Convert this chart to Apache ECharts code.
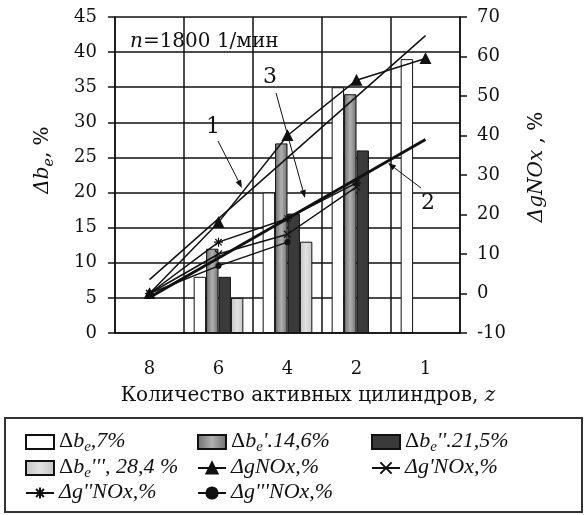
<!DOCTYPE html>
<html>
<head>
<meta charset="utf-8">
<script src="https://cdn.jsdelivr.net/npm/echarts@6/dist/echarts.min.js"></script>
<style>
  html, body { margin: 0; padding: 0; background: #fff; }
  #chart { width: 587px; height: 515px; }
</style>
</head>
<body>
<div id="chart"></div>
<script>
// categories (number of active cylinders)
var categories = ['8', '6', '4', '2', '1'];

// bars, left axis (Δbe, %)
var be0 = [null, 8, 20, 35, 39];
var be1 = [null, 12, 27, 34, null];
var be2 = [null, 8, 17, 26, null];
var be3 = [null, 5, 13, null, null];

// lines, right axis (ΔgNOx, %)
var gNOx0 = [0, 18, 40, 54, 59.5];
var gNOx1 = [0, 10, 15, 27, null];
var gNOx2 = [0, 13, 19, 28, null];
var gNOx3 = [0, 7, 13, null, null];

// trend lines (values read at the first and last category)
var trend1 = [3.5, 65.3];
var trend2 = [-1, 39];

var leftTicks = [0, 45, 5];
var rightTicks = [-10, 70, 10];

var FONT = 'DejaVu Serif';
var LFONT = 'Liberation Serif';
var names = ["Δbe,7%", "Δbe',14,6%", "Δbe'',21,5%", "Δbe''',28,4%",
             "ΔgNOx,%", "Δg'NOx,%", "Δg''NOx,%", "Δg'''NOx,%"];
var legendText = {};
legendText[names[0]] = '{u|Δ}{n|b}{s|e}{n|,7%}';
legendText[names[1]] = "{u|Δ}{n|b}{s|e}{n|'.14,6%}";
legendText[names[2]] = "{u|Δ}{n|b}{s|e}{n|''.21,5%}";
legendText[names[3]] = "{u|Δ}{n|b}{s|e}{n|''', 28,4 %}";
legendText[names[4]] = '{n|ΔgNOx,%}';
legendText[names[5]] = "{n|Δg'NOx,%}";
legendText[names[6]] = "{n|Δg''NOx,%}";
legendText[names[7]] = "{n|Δg'''NOx,%}";

var rich = {
  n: { fontFamily: LFONT, fontSize: 22, fontStyle: 'italic', color: '#111', verticalAlign: 'top', lineHeight: 24 },
  u: { fontFamily: LFONT, fontSize: 22, color: '#111', verticalAlign: 'top', lineHeight: 24 },
  s: { fontFamily: LFONT, fontSize: 15, fontStyle: 'italic', color: '#111', verticalAlign: 'top', lineHeight: 16, padding: [10, 0, 0, 0] }
};

// legend grid: 3 columns x 3 rows
var legendCols = [20, 192, 366];
var legendRows = [425, 451, 476];
var legends = names.map(function (nm, i) {
  return {
    data: [nm],
    left: legendCols[i % 3],
    top: legendRows[Math.floor(i / 3)],
    itemWidth: 28,
    itemHeight: 14,
    icon: i < 4 ? 'rect' : undefined,
    selectedMode: false,
    formatter: function (name) { return legendText[name]; },
    textStyle: { rich: rich }
  };
});

var crossSym = 'path://M0,0L10,10M10,0L0,10';
var starSym = 'path://M5,0L5,10M0,5L10,5M1.5,1.5L8.5,8.5M8.5,1.5L1.5,8.5';

function barSeries(name, data, color) {
  return {
    name: name, type: 'bar', data: data, yAxisIndex: 0,
    barGap: '0%', barCategoryGap: '28%',
    itemStyle: { color: color, borderColor: '#111', borderWidth: 1 }
  };
}
function lineSeries(name, data, symbol, size) {
  return {
    name: name, type: 'line', data: data, yAxisIndex: 1, z: 5,
    symbol: symbol, symbolSize: size,
    lineStyle: { color: '#111', width: 1.5 },
    itemStyle: { color: '#111', borderColor: '#111', borderWidth: 1.2 }
  };
}
function trendSeries(t, w) {
  return {
    type: 'line', yAxisIndex: 1, z: 4, symbol: 'none', silent: true,
    connectNulls: true,
    data: [t[0], null, null, null, t[1]],
    lineStyle: { color: '#111', width: w }
  };
}

// pointer lines with arrow heads (annotations)
function pointer(x1, y1, x2, y2) {
  var a = Math.atan2(y2 - y1, x2 - x1), L = 8, W = 3;
  var bx = x2 - L * Math.cos(a), by = y2 - L * Math.sin(a);
  return [
    { type: 'line', shape: { x1: x1, y1: y1, x2: bx, y2: by }, style: { stroke: '#111', lineWidth: 1 }, z: 10 },
    { type: 'polygon', shape: { points: [[x2, y2],
        [bx + W * Math.sin(a), by - W * Math.cos(a)],
        [bx - W * Math.sin(a), by + W * Math.cos(a)]] }, style: { fill: '#111' }, z: 10 }
  ];
}

var axisLineStyle = { color: '#111', width: 1.5 };
var labelStyle = { fontFamily: FONT, fontSize: 18, color: '#111' };

var graphics = [
  { type: 'rect', shape: { x: 5, y: 418, width: 577, height: 94 }, style: { fill: 'none', stroke: '#333', lineWidth: 2 } },
  { type: 'text', x: 130, y: 42, z: 10, style: {
      text: '{i|n}{r|=1800 1/мин}', verticalAlign: 'middle',
      rich: { i: { fontFamily: FONT, fontSize: 20, fontStyle: 'italic', fill: '#111' }, r: { fontFamily: FONT, fontSize: 20, fill: '#111' } } } },
  { type: 'text', x: 45, y: 160, rotation: Math.PI / 2, style: {
      text: '{i|Δb}{s|e}{r|, %}', align: 'center', verticalAlign: 'middle',
      rich: { i: { fontFamily: FONT, fontSize: 20, fontStyle: 'italic', fill: '#111', verticalAlign: 'top', lineHeight: 24 },
              s: { fontFamily: FONT, fontSize: 14, fontStyle: 'italic', fill: '#111', verticalAlign: 'top', lineHeight: 16, padding: [9, 0, 0, 0] },
              r: { fontFamily: FONT, fontSize: 20, fill: '#111', verticalAlign: 'top', lineHeight: 24 } } } },
  { type: 'text', x: 537, y: 167, rotation: Math.PI / 2, style: {
      text: '{i|ΔgNOx}{r| , %}', align: 'center', verticalAlign: 'middle',
      rich: { i: { fontFamily: FONT, fontSize: 20, fontStyle: 'italic', fill: '#111' }, r: { fontFamily: FONT, fontSize: 20, fill: '#111' } } } },
  { type: 'text', x: 308, y: 396, style: {
      text: '{r|Количество активных цилиндров, }{i|z}', align: 'center', verticalAlign: 'middle',
      rich: { i: { fontFamily: FONT, fontSize: 20, fontStyle: 'italic', fill: '#111' }, r: { fontFamily: FONT, fontSize: 20, fill: '#111' } } } },
  { type: 'text', x: 213, y: 127, z: 10, style: { text: '1', font: '22px "DejaVu Serif"', fill: '#111', align: 'center', verticalAlign: 'middle' } },
  { type: 'text', x: 270, y: 77, z: 10, style: { text: '3', font: '22px "DejaVu Serif"', fill: '#111', align: 'center', verticalAlign: 'middle' } },
  { type: 'text', x: 428, y: 203, z: 10, style: { text: '2', font: '22px "DejaVu Serif"', fill: '#111', align: 'center', verticalAlign: 'middle' } }
].concat(pointer(218, 141, 242, 188), pointer(276, 93, 305, 198), pointer(421, 188, 388, 163));

var chart = echarts.init(document.getElementById('chart'), null, { renderer: 'canvas' });
chart.setOption({
  animation: false,
  backgroundColor: '#fff',
  grid: { left: 115, right: 127, top: 17, bottom: 182 },
  legend: legends,
  xAxis: {
    type: 'category', data: categories, boundaryGap: true,
    axisLine: { lineStyle: axisLineStyle },
    axisTick: { length: 6, lineStyle: axisLineStyle },
    axisLabel: Object.assign({ margin: 27 }, labelStyle),
    splitLine: { show: true, lineStyle: { color: '#111', width: 1.5 } }
  },
  yAxis: [
    {
      type: 'value', min: leftTicks[0], max: leftTicks[1], interval: leftTicks[2],
      axisLine: { show: true, lineStyle: axisLineStyle },
      axisTick: { show: true, length: 7, lineStyle: axisLineStyle },
      axisLabel: Object.assign({ margin: 18 }, labelStyle),
      splitLine: { show: true, lineStyle: { color: '#111', width: 1.5 } }
    },
    {
      type: 'value', position: 'right', min: rightTicks[0], max: rightTicks[1], interval: rightTicks[2],
      axisLine: { show: true, lineStyle: axisLineStyle },
      axisTick: { show: true, length: 7, lineStyle: axisLineStyle },
      axisLabel: Object.assign({ margin: 17 }, labelStyle),
      splitLine: { show: false }
    }
  ],
  series: [
    barSeries(names[0], be0, '#ffffff'),
    barSeries(names[1], be1, new echarts.graphic.LinearGradient(0, 0, 1, 0, [
      { offset: 0, color: '#6e6e6e' }, { offset: 0.5, color: '#b0b0b0' }, { offset: 1, color: '#6e6e6e' }])),
    barSeries(names[2], be2, '#3a3a3a'),
    barSeries(names[3], be3, new echarts.graphic.LinearGradient(0, 0, 1, 0, [
      { offset: 0, color: '#c4c4c4' }, { offset: 0.5, color: '#e2e2e2' }, { offset: 1, color: '#c4c4c4' }])),
    lineSeries(names[4], gNOx0, 'triangle', 10),
    lineSeries(names[5], gNOx1, crossSym, 7),
    lineSeries(names[6], gNOx2, starSym, 9),
    lineSeries(names[7], gNOx3, 'circle', 5),
    trendSeries(trend1, 1.5),
    trendSeries(trend2, 3)
  ],
  graphic: graphics
});
</script>
</body>
</html>
